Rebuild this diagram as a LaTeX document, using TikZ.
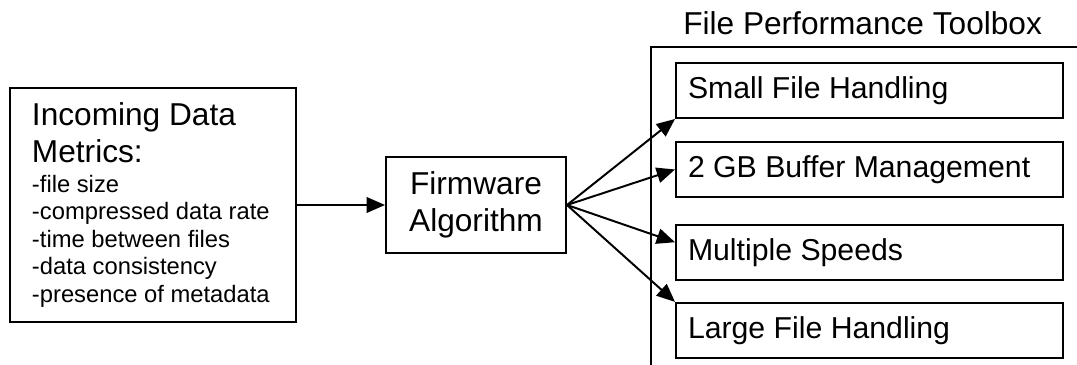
\documentclass[tikz,border=0pt]{standalone}
\usepackage{fontspec}
\setmainfont{Liberation Sans}
\usetikzlibrary{arrows.meta,positioning}
\newcommand{\bigtext}{\fontsize{22.5pt}{26.2pt}\selectfont}
\newcommand{\itemtext}{\fontsize{21.5pt}{25pt}\selectfont}
\newcommand{\smalltext}{\fontsize{16.9pt}{19.5pt}\selectfont}
\tikzset{
  blockbox/.style={draw, line width=1.4pt, inner sep=0pt},
  toolitem/.style={blockbox, minimum width=9.675cm, minimum height=1.375cm,
    text width=9.075cm, inner xsep=0.3cm, align=flush left, font=\itemtext},
  flow/.style={-{Triangle[length=13pt,width=11pt]}, line width=1.4pt},
}
\begin{document}
\begin{tikzpicture}
\useasboundingbox (0,0) rectangle (26.925,9.125);
\node[blockbox, minimum width=7.15cm, minimum height=5.85cm, text width=6.05cm,
      inner xsep=0.55cm, align=flush left, font=\bigtext] (metrics) at (3.825,4.0)
  {Incoming Data\\Metrics:\\[1.8pt]\smalltext -file size\\-compressed data rate\\
   -time between files\\-data consistency\\-presence of metadata\par};
\node[blockbox, minimum width=4.5cm, minimum height=2.4cm, align=center,
      font=\bigtext] (firmware) at (11.9,4.0) {Firmware\\Algorithm};
\node[font=\bigtext, anchor=base west, inner sep=0pt] (tbtitle) at (17.075,8.25)
  {File Performance Toolbox};
\draw[line width=1.4pt] (16.275,0) |- (26.925,7.95);
\node[toolitem] (smallfile) at (21.7375,6.8625) {Small File Handling};
\node[toolitem, below=0.55cm of smallfile] (buffer) {2 GB Buffer Management};
\node[toolitem, below=0.65cm of buffer] (speeds) {Multiple Speeds};
\node[toolitem, below=0.525cm of speeds] (largefile) {Large File Handling};
\draw[flow] (metrics.east) -- (firmware.west);
\draw[flow] (firmware.east) -- (smallfile.south west);
\draw[flow] (firmware.east) -- (buffer.west);
\draw[flow] (firmware.east) -- (speeds.177);
\draw[flow] (firmware.east) -- (largefile.north west);
\end{tikzpicture}
\end{document}
